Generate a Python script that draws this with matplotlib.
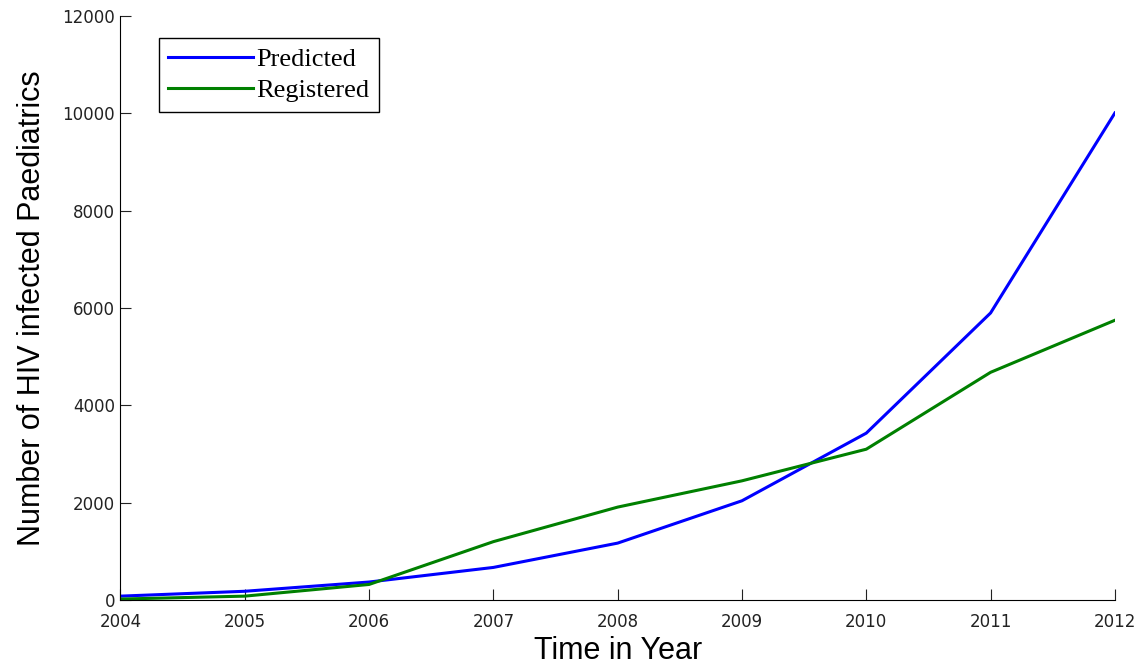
import matplotlib.pyplot as plt

years = [2004, 2005, 2006, 2007, 2008, 2009, 2010, 2011, 2012]
predicted = [80, 180, 370, 670, 1170, 2040, 3430, 5900, 10010]
registered = [20, 80, 320, 1200, 1910, 2450, 3100, 4680, 5750]

fig = plt.figure(figsize=(11.43, 6.65), dpi=100)
ax = fig.add_axes([0.1054, 0.0977, 0.870, 0.878])

ax.plot(years, predicted, color='#0000ff', lw=2.2, label='Predicted')
ax.plot(years, registered, color='#008000', lw=2.2, label='Registered')

ax.set_xlim(2004, 2012)
ax.set_ylim(0, 12000)
ax.set_xticks(years)
ax.set_yticks(range(0, 12001, 2000))

for side in ['top', 'right']:
    ax.spines[side].set_visible(False)
ax.tick_params(direction='in', length=8, labelsize=12, colors='#222222')
ax.tick_params(axis='x', pad=9)
ax.tick_params(axis='y', pad=4)
for lbl in ax.get_xticklabels() + ax.get_yticklabels():
    lbl.set_family('DejaVu Sans')

ax.set_xlabel("Time in Year", fontsize=22, family='Liberation Sans', labelpad=4)
ax.set_ylabel("Number of HIV infected Paediatrics", fontsize=22,
              family='Liberation Sans', labelpad=11)

leg = ax.legend(loc='upper left', bbox_to_anchor=(0.0387, 0.962),
                borderaxespad=0,
                prop={'family': 'Liberation Serif', 'size': 19},
                handlelength=3.2, handletextpad=0.15, borderpad=0.35,
                labelspacing=0.3, fancybox=False, framealpha=1)
leg.get_frame().set_edgecolor('black')
leg.get_frame().set_linewidth(1.0)

fig.savefig('out.png', dpi=100)
